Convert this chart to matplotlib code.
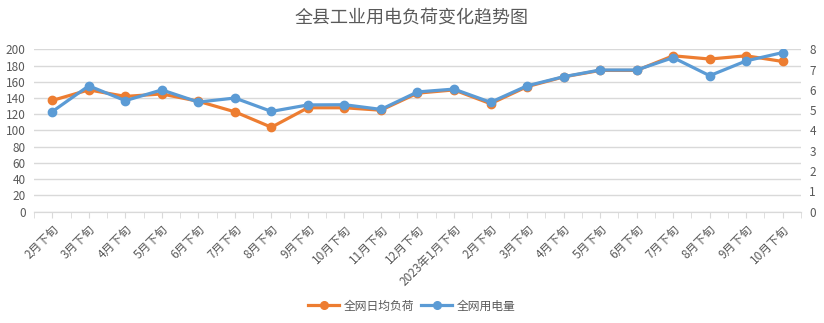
import numpy as np
import matplotlib.pyplot as plt
from matplotlib.lines import Line2D

plt.rcParams['font.family'] = ['Noto Sans CJK SC', 'DejaVu Sans']

periods = ["2月下旬", "3月下旬", "4月下旬", "5月下旬", "6月下旬", "7月下旬", "8月下旬",
           "9月下旬", "10月下旬", "11月下旬", "12月下旬", "2023年1月下旬", "2月下旬",
           "3月下旬", "4月下旬", "5月下旬", "6月下旬", "7月下旬", "8月下旬", "9月下旬",
           "10月下旬"]
avg_load = [137, 150, 142, 145, 136, 123, 104, 128, 128, 125, 146, 150, 133,
            154, 166, 174, 174, 192, 188, 192, 185]
usage = [4.93, 6.2, 5.47, 6.0, 5.4, 5.6, 4.94, 5.26, 5.27, 5.04, 5.9, 6.04, 5.39,
         6.2, 6.65, 6.98, 6.98, 7.59, 6.7, 7.43, 7.84]

orange = "#ED7D31"
blue = "#5B9BD5"
text_c = "#595959"
grid_c = "#D9D9D9"

fig = plt.figure(figsize=(8.24, 3.23), dpi=100)
ax = fig.add_axes([34 / 824, 1 - 211.7 / 323, 767 / 824, 162.4 / 323])
ax2 = ax.twinx()

x = np.arange(len(periods))
ax.plot(x, avg_load, color=orange, lw=2.3, marker="o", ms=6, solid_capstyle="round")
ax2.plot(x, usage, color=blue, lw=2.3, marker="o", ms=6, solid_capstyle="round")

ax.set_ylim(0, 200)
ax.set_yticks(range(0, 201, 20))
ax2.set_ylim(0, 8)
ax2.set_yticks(range(0, 9))
ax.set_xlim(-0.5, len(periods) - 0.5)

ax.yaxis.grid(True, color=grid_c, lw=1)
ax.set_axisbelow(True)

for a in (ax, ax2):
    for side in ("top", "left", "right"):
        a.spines[side].set_visible(False)
    a.spines["bottom"].set_color(grid_c)
    a.tick_params(axis="y", length=0, labelsize=8.5, labelcolor=text_c, pad=6)

ax.set_xticks(x)
ax.set_xticklabels(periods, rotation=45, ha="right", rotation_mode="anchor",
                   fontsize=8.5, color=text_c)
ax.set_xticks(np.arange(-0.5, len(periods)), minor=True)
ax.tick_params(axis="x", which="major", length=4, color=grid_c, pad=4)
ax.tick_params(axis="x", which="minor", length=4, color=grid_c)

fig.text(0.5, 1 - 18 / 323, "全县工业用电负荷变化趋势图", ha="center", va="center",
         fontsize=13, color=text_c)

handles = [Line2D([], [], color=orange, lw=2.3, marker="o", ms=5.5),
           Line2D([], [], color=blue, lw=2.3, marker="o", ms=5.5)]
fig.legend(handles, ["全网日均负荷", "全网用电量"], loc="center",
           bbox_to_anchor=(0.5, 1 - 306 / 323), ncol=2, frameon=False,
           fontsize=8.5, labelcolor=text_c, handlelength=2.6, columnspacing=0.6,
           handletextpad=0.4)

fig.savefig("out.png", dpi=100)
